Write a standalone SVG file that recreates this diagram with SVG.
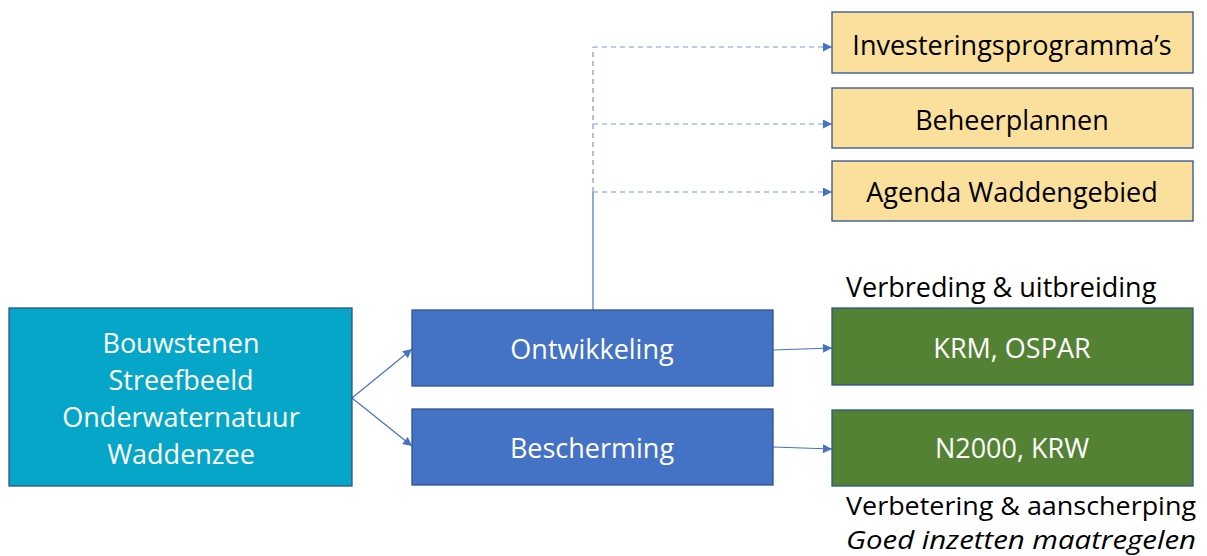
<svg xmlns="http://www.w3.org/2000/svg" width="1207" height="556" viewBox="0 0 1207 556">
  <style>
    .box { stroke: #2F528F; stroke-width: 1.3; }
    .cyan { fill: #06A6C8; }
    .blue { fill: #4472C4; }
    .green { fill: #548235; }
    .yellow { fill: #FBE09D; }
    .t { font-family: "Open Sans", "Noto Sans", sans-serif; font-size: 27px; }
    .note { font-size: 25px; }
    .w { fill: #FFFFFF; text-anchor: middle; }
    .k { fill: #000000; }
    .c { text-anchor: middle; }
    .link { fill: none; stroke: #4472C4; stroke-width: 1.2; }
    .dash { stroke: #7A98D4; stroke-dasharray: 5 4; }
  </style>
  <defs>
    <marker id="arrow" viewBox="0 0 10 10" refX="10" refY="5" markerWidth="10" markerHeight="9" markerUnits="userSpaceOnUse" orient="auto">
      <path d="M0,0 L10,5 L0,10 z" fill="#4472C4"/>
    </marker>
  </defs>

  <!-- connectors -->
  <g id="connectors">
    <line class="link" x1="352" y1="398" x2="412" y2="349" marker-end="url(#arrow)"/>
    <line class="link" x1="352" y1="398" x2="412" y2="446" marker-end="url(#arrow)"/>
    <line class="link" x1="773" y1="350" x2="832" y2="348" marker-end="url(#arrow)"/>
    <line class="link" x1="773" y1="447" x2="832" y2="449" marker-end="url(#arrow)"/>
    <line class="link" x1="593" y1="310" x2="593" y2="192" stroke="#7A98D4"/>
    <path class="link dash" d="M593,192 L593,47"/>
    <path class="link dash" d="M593,47 L832,47" marker-end="url(#arrow)"/>
    <path class="link dash" d="M593,124 L832,124" marker-end="url(#arrow)"/>
    <path class="link dash" d="M593,192 L832,192" marker-end="url(#arrow)"/>
  </g>

  <g id="node-bouwstenen">
    <rect class="box cyan" x="9" y="308" width="343" height="178"/>
    <text class="t w" x="181" y="353">Bouwstenen</text>
    <text class="t w" x="181" y="390">Streefbeeld</text>
    <text class="t w" x="181" y="427">Onderwaternatuur</text>
    <text class="t w" x="181" y="464">Waddenzee</text>
  </g>

  <g id="node-ontwikkeling">
    <rect class="box blue" x="412" y="310" width="361" height="76"/>
    <text class="t w" x="592" y="359">Ontwikkeling</text>
  </g>

  <g id="node-bescherming">
    <rect class="box blue" x="412" y="409" width="361" height="76"/>
    <text class="t w" x="592" y="458">Bescherming</text>
  </g>

  <g id="node-investeringsprogrammas">
    <rect class="box yellow" x="832" y="12" width="361" height="61"/>
    <text class="t k c" x="1012" y="55">Investeringsprogramma’s</text>
  </g>

  <g id="node-beheerplannen">
    <rect class="box yellow" x="832" y="88" width="361" height="60"/>
    <text class="t k c" x="1012" y="130">Beheerplannen</text>
  </g>

  <g id="node-agenda">
    <rect class="box yellow" x="832" y="161" width="361" height="60"/>
    <text class="t k c" x="1012" y="202">Agenda Waddengebied</text>
  </g>

  <g id="node-krm">
    <text class="t k" x="846" y="297">Verbreding &amp; uitbreiding</text>
    <rect class="box green" x="832" y="308" width="361" height="77"/>
    <text class="t w" x="1012" y="358">KRM, OSPAR</text>
  </g>

  <g id="node-n2000">
    <rect class="box green" x="832" y="410" width="361" height="76"/>
    <text class="t w" x="1012" y="458">N2000, KRW</text>
    <text class="t note k" x="846" y="515" textLength="350" lengthAdjust="spacingAndGlyphs">Verbetering &amp; aanscherping</text>
    <text class="t note k" x="846" y="549" font-style="italic" textLength="350" lengthAdjust="spacingAndGlyphs">Goed inzetten maatregelen</text>
  </g>
</svg>
